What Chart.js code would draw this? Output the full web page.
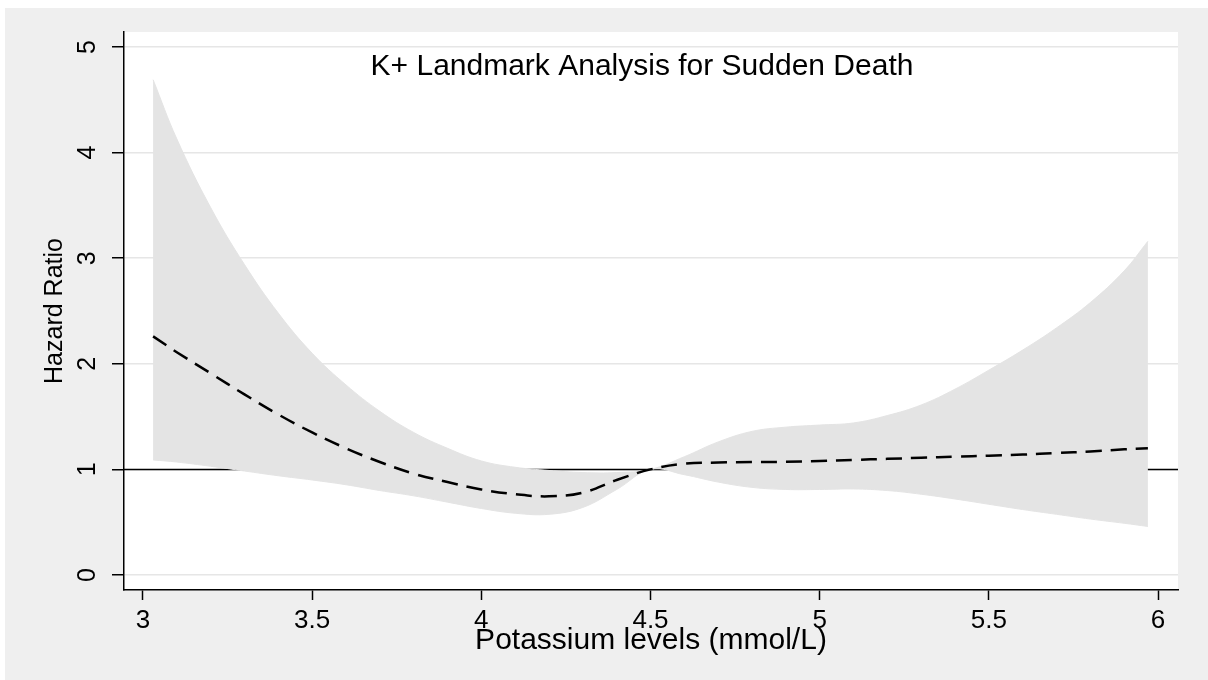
<!DOCTYPE html>
<html>
<head>
<meta charset="utf-8">
<title>K+ Landmark Analysis for Sudden Death</title>
<script src="https://cdn.jsdelivr.net/npm/chart.js@4.4.1/dist/chart.umd.min.js"></script>
<style>
  html, body { margin: 0; padding: 0; background: #fff; }
  canvas { display: block; }
</style>
</head>
<body>
<canvas id="chart" width="1208" height="680"></canvas>
<script>
// potassium (mmol/L) and hazard ratio estimates
const potassium = [3.03, 3.1, 3.2, 3.3, 3.4, 3.5, 3.6, 3.7, 3.8, 3.9, 4.0, 4.1, 4.2, 4.3, 4.4, 4.5,
  4.6, 4.7, 4.8, 4.9, 5.0, 5.1, 5.2, 5.3, 5.4, 5.5, 5.6, 5.7, 5.8, 5.9, 5.97]
const hazardRatio = [2.26, 2.11, 1.91, 1.71, 1.52, 1.35, 1.20, 1.07, 0.96, 0.88, 0.81, 0.765, 0.745, 0.78, 0.90, 1.0,
  1.055, 1.065, 1.07, 1.072, 1.08, 1.09, 1.10, 1.11, 1.12, 1.13, 1.14, 1.155, 1.17, 1.19, 1.20]
const upperCI = [4.69, 4.13, 3.48, 2.94, 2.48, 2.10, 1.80, 1.55, 1.35, 1.20, 1.08, 1.02, 0.99, 0.97, 0.97, 1.0,
  1.12, 1.26, 1.36, 1.40, 1.42, 1.44, 1.51, 1.61, 1.76, 1.94, 2.13, 2.34, 2.58, 2.88, 3.16]
const lowerCI = [1.09, 1.07, 1.03, 0.985, 0.94, 0.90, 0.855, 0.80, 0.75, 0.69, 0.63, 0.585, 0.575, 0.64, 0.81, 1.0,
  0.95, 0.88, 0.83, 0.81, 0.81, 0.815, 0.80, 0.765, 0.72, 0.67, 0.62, 0.575, 0.53, 0.49, 0.46]

const xTicks = [3, 3.5, 4, 4.5, 5, 5.5, 6]
const yTicks = [0, 1, 2, 3, 4, 5]
const refValue = 1
const xMin = 2.944, xMax = 6.059
const yMin = -0.142, yMax = 5.142

const FONT = "'Liberation Sans', Arial, sans-serif"
const pts = (ys) => potassium.map((x, i) => ({ x, y: ys[i] }))

const backdrop = {
  id: "backdrop",
  beforeDraw(chart) {
    const { ctx, chartArea: a, width, height } = chart
    ctx.save()
    ctx.fillStyle = "#ffffff"
    ctx.fillRect(0, 0, width, height)
    ctx.fillStyle = "#efefef"
    ctx.fillRect(5, 8, width - 5, height - 8)
    ctx.fillStyle = "#ffffff"
    ctx.fillRect(a.left, a.top, a.right - a.left, a.bottom - a.top)
    ctx.restore()
  },
  afterDraw(chart) {
    const { ctx } = chart
    ctx.save()
    ctx.fillStyle = "#000"
    ctx.font = "30px " + FONT
    ctx.textAlign = "center"
    ctx.textBaseline = "alphabetic"
    ctx.fillText("K+ Landmark Analysis for Sudden Death", 642, 75)
    ctx.restore()
  }
}

new Chart(document.getElementById("chart"), {
  type: "line",
  data: {
    datasets: [
      {
        label: "HR",
        data: pts(hazardRatio),
        borderColor: "#000",
        borderWidth: 2.5,
        borderDash: [16, 9],
        pointRadius: 0,
        fill: false,
        tension: 0.4,
        order: 1
      },
      {
        label: "Upper",
        data: pts(upperCI),
        borderColor: "#e4e4e4",
        borderWidth: 1,
        backgroundColor: "#e4e4e4",
        pointRadius: 0,
        fill: "+1",
        tension: 0.4,
        order: 2
      },
      {
        label: "Lower",
        data: pts(lowerCI),
        borderColor: "#e4e4e4",
        borderWidth: 1,
        pointRadius: 0,
        fill: false,
        tension: 0.4,
        order: 2
      },
      {
        label: "Reference",
        data: [{ x: xMin, y: refValue }, { x: xMax, y: refValue }],
        borderColor: "#000",
        borderWidth: 1.5,
        pointRadius: 0,
        fill: false,
        order: 3
      }
    ]
  },
  options: {
    responsive: false,
    animation: false,
    events: [],
    layout: { padding: { left: 0, top: 32, right: 30, bottom: 0 } },
    plugins: {
      legend: { display: false },
      tooltip: { enabled: false },
      title: { display: false }
    },
    scales: {
      x: {
        type: "linear",
        min: xMin,
        max: xMax,
        afterBuildTicks: (s) => { s.ticks = xTicks.map((v) => ({ value: v })) },
        afterFit: (s) => { s.height = 90 },
        border: { color: "#000", width: 1.5 },
        grid: { drawOnChartArea: false, tickLength: 10, tickColor: "#000", tickWidth: 1.5 },
        ticks: {
          maxRotation: 0,
          padding: 5,
          color: "#000",
          font: { family: FONT, size: 26 },
          callback: (v) => String(v)
        },
        title: {
          display: true,
          text: "Potassium levels (mmol/L)",
          color: "#000",
          font: { family: FONT, size: 30 },
          padding: 21
        }
      },
      y: {
        type: "linear",
        min: yMin,
        max: yMax,
        afterBuildTicks: (s) => { s.ticks = yTicks.map((v) => ({ value: v })) },
        afterFit: (s) => { s.width = 124 },
        border: { color: "#000", width: 1.5 },
        grid: { color: "#e6e6e6", lineWidth: 1.5, tickLength: 12, tickColor: "#000", tickWidth: 1.5 },
        ticks: {
          minRotation: 90,
          maxRotation: 90,
          crossAlign: "center",
          padding: 17,
          color: "#000",
          font: { family: FONT, size: 25 },
          callback: (v) => String(v)
        },
        title: {
          display: true,
          text: "Hazard Ratio",
          color: "#000",
          font: { family: FONT, size: 25 },
          padding: 40
        }
      }
    }
  },
  plugins: [backdrop]
})
</script>
</body>
</html>
